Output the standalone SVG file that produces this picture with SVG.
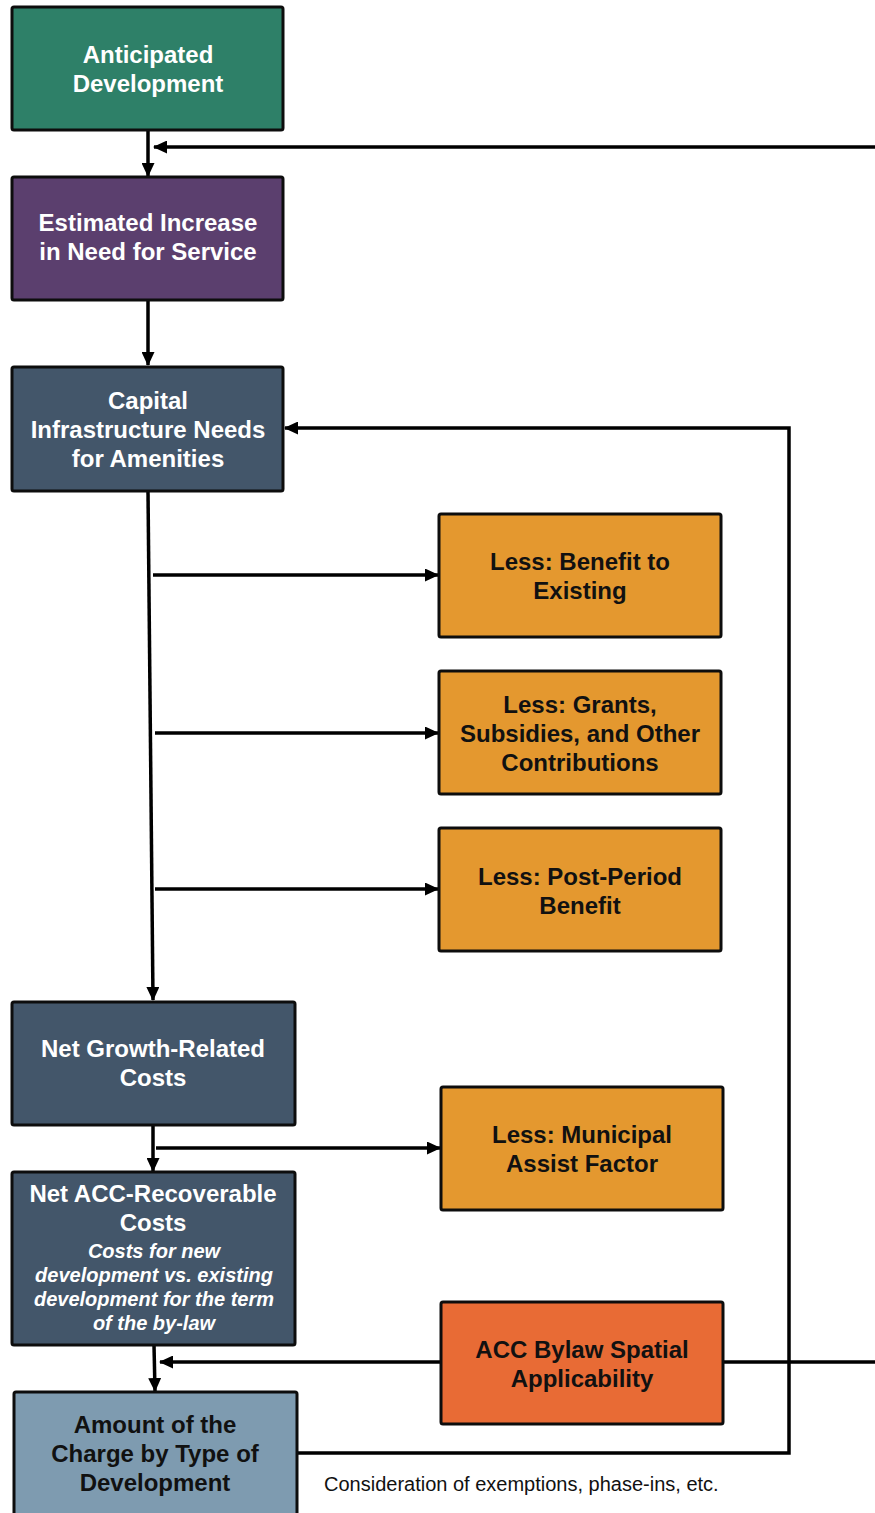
<svg xmlns="http://www.w3.org/2000/svg" width="875" height="1513" viewBox="0 0 875 1513">
<style>
.box{stroke:#0d0d0d;stroke-width:3;}
.t{font-family:"Liberation Sans",Arial,sans-serif;font-weight:bold;font-size:24px;text-anchor:middle;}
.w{fill:#ffffff;}
.d{fill:#111111;}
.it{font-style:italic;font-size:20px;}
.c{fill:none;stroke:#000;stroke-width:3.5;}
.note{font-family:"Liberation Sans",Arial,sans-serif;font-size:20px;fill:#111;}
</style>
<defs>
<marker id="ah" markerUnits="userSpaceOnUse" markerWidth="14" markerHeight="13" refX="13" refY="6.5" orient="auto">
<path d="M0,0 L14,6.5 L0,13 z" fill="#000"/>
</marker>
</defs>
<rect width="875" height="1513" fill="#ffffff"/>
<g id="connectors">
<line class="c" x1="148" y1="130" x2="148" y2="176" marker-end="url(#ah)"/>
<line class="c" x1="875" y1="147" x2="154" y2="147" marker-end="url(#ah)"/>
<line class="c" x1="148" y1="300" x2="148" y2="365" marker-end="url(#ah)"/>
<line class="c" x1="148" y1="491" x2="153" y2="1000" marker-end="url(#ah)"/>
<line class="c" x1="153" y1="575" x2="438" y2="575" marker-end="url(#ah)"/>
<line class="c" x1="155" y1="733" x2="438" y2="733" marker-end="url(#ah)"/>
<line class="c" x1="155" y1="889" x2="438" y2="889" marker-end="url(#ah)"/>
<line class="c" x1="153" y1="1125" x2="153" y2="1171" marker-end="url(#ah)"/>
<line class="c" x1="156" y1="1148" x2="440" y2="1148" marker-end="url(#ah)"/>
<line class="c" x1="154" y1="1345" x2="155" y2="1391" marker-end="url(#ah)"/>
<line class="c" x1="441" y1="1362" x2="160" y2="1362" marker-end="url(#ah)"/>
<line class="c" x1="723" y1="1362" x2="875" y2="1362"/>
<polyline class="c" points="297,1453 789,1453 789,428 285,428" marker-end="url(#ah)"/>
</g>
<g id="anticipated">
<rect class="box" x="12" y="7" width="271" height="123" rx="2" fill="#2e8068"/>
<text class="t w" x="148" y="63">Anticipated</text>
<text class="t w" x="148" y="92">Development</text>
</g>
<g id="estimated">
<rect class="box" x="12" y="177" width="271" height="123" rx="2" fill="#5b3f6e"/>
<text class="t w" x="148" y="231">Estimated Increase</text>
<text class="t w" x="148" y="260">in Need for Service</text>
</g>
<g id="capital">
<rect class="box" x="12" y="367" width="271" height="124" rx="2" fill="#43566a"/>
<text class="t w" x="148" y="409">Capital</text>
<text class="t w" x="148" y="438">Infrastructure Needs</text>
<text class="t w" x="148" y="467">for Amenities</text>
</g>
<g id="benefit-existing">
<rect class="box" x="439" y="514" width="282" height="123" rx="2" fill="#e4982f"/>
<text class="t d" x="580" y="570">Less: Benefit to</text>
<text class="t d" x="580" y="599">Existing</text>
</g>
<g id="grants">
<rect class="box" x="439" y="671" width="282" height="123" rx="2" fill="#e4982f"/>
<text class="t d" x="580" y="713">Less: Grants,</text>
<text class="t d" x="580" y="742">Subsidies, and Other</text>
<text class="t d" x="580" y="771">Contributions</text>
</g>
<g id="post-period">
<rect class="box" x="439" y="828" width="282" height="123" rx="2" fill="#e4982f"/>
<text class="t d" x="580" y="885">Less: Post-Period</text>
<text class="t d" x="580" y="914">Benefit</text>
</g>
<g id="net-growth">
<rect class="box" x="12" y="1002" width="283" height="123" rx="2" fill="#43566a"/>
<text class="t w" x="153" y="1057">Net Growth-Related</text>
<text class="t w" x="153" y="1086">Costs</text>
</g>
<g id="municipal">
<rect class="box" x="441" y="1087" width="282" height="123" rx="2" fill="#e4982f"/>
<text class="t d" x="582" y="1143">Less: Municipal</text>
<text class="t d" x="582" y="1172">Assist Factor</text>
</g>
<g id="net-acc">
<rect class="box" x="12" y="1172" width="283" height="173" rx="2" fill="#43566a"/>
<text class="t w" x="153" y="1202">Net ACC-Recoverable</text>
<text class="t w" x="153" y="1231">Costs</text>
<text class="t w it" x="154" y="1258">Costs for new</text>
<text class="t w it" x="154" y="1282">development vs. existing</text>
<text class="t w it" x="154" y="1306">development for the term</text>
<text class="t w it" x="154" y="1330">of the by-law</text>
</g>
<g id="spatial">
<rect class="box" x="441" y="1302" width="282" height="122" rx="2" fill="#e86b35"/>
<text class="t d" x="582" y="1358">ACC Bylaw Spatial</text>
<text class="t d" x="582" y="1387">Applicability</text>
</g>
<g id="amount">
<rect class="box" x="14" y="1392" width="283" height="124" rx="2" fill="#7e9bb0"/>
<text class="t d" x="155" y="1433">Amount of the</text>
<text class="t d" x="155" y="1462">Charge by Type of</text>
<text class="t d" x="155" y="1491">Development</text>
</g>
<text class="note" x="324" y="1491">Consideration of exemptions, phase-ins, etc.</text>
</svg>
